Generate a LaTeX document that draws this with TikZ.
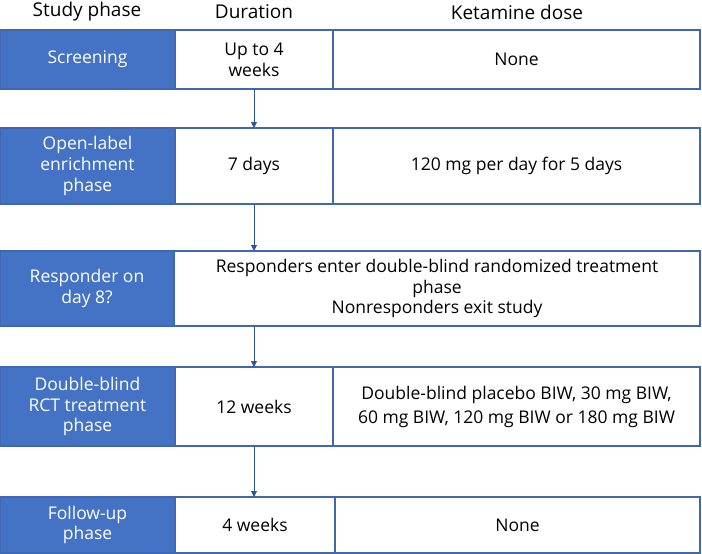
\documentclass[tikz,border=0pt]{standalone}
\usepackage{fontspec}
\setmainfont{Open Sans}
\usetikzlibrary{arrows.meta}
\definecolor{phaseblue}{HTML}{4472C4}
\definecolor{edgeblue}{HTML}{3F68B0}
\definecolor{arrowblue}{HTML}{2F5597}
\tikzset{
  cell/.style={draw=edgeblue, line width=1.2pt, anchor=north west, inner sep=0pt, outer sep=0pt,
    align=center, font=\fontsize{17.5}{20.8}\selectfont},
  phasebox/.style={cell, fill=phaseblue, text=white},
  infobox/.style={cell, fill=white, text=black},
  head/.style={font=\fontsize{19}{22}\selectfont, inner sep=0pt},
  flow/.style={draw=arrowblue, line width=1pt, -{Triangle[length=6pt,width=6pt]}}
}
\begin{document}
\begin{tikzpicture}[x=1pt,y=-1pt]
\useasboundingbox (0,0) rectangle (702,554);
% headers
\node[head] (h1) at (87,12) {Study phase};
\node[head] (h2) at (254,12) {Duration};
\node[head] (h3) at (517,12) {Ketamine dose};
% row 1
\node[phasebox, minimum width=175pt, minimum height=59pt] (p1) at (0,30) {Screening};
\node[infobox, minimum width=158pt, minimum height=59pt] (d1) at (175,30) {Up to 4\\weeks};
\node[infobox, minimum width=367pt, minimum height=59pt] (k1) at (333,30) {None};
% row 2
\node[phasebox, minimum width=175pt, minimum height=76pt] (p2) at (0,128) {Open-label\\enrichment\\phase};
\node[infobox, minimum width=158pt, minimum height=76pt] (d2) at (175,128) {7 days};
\node[infobox, minimum width=367pt, minimum height=76pt] (k2) at (333,128) {120 mg per day for 5 days};
% row 3
\node[phasebox, minimum width=174pt, minimum height=75pt] (p3) at (0,251) {Responder on\\day 8?};
\node[infobox, minimum width=526pt, minimum height=75pt] (r3) at (174,251) {Responders enter double-blind randomized treatment\\phase\\Nonresponders exit study};
% row 4
\node[phasebox, minimum width=175pt, minimum height=79pt] (p4) at (0,367) {Double-blind\\RCT treatment\\phase};
\node[infobox, minimum width=158pt, minimum height=79pt] (d4) at (175,367) {12 weeks};
\node[infobox, minimum width=367pt, minimum height=79pt, font=\fontsize{17.5}{24}\selectfont] (k4) at (333,367) {Double-blind placebo BIW, 30 mg BIW,\\60 mg BIW, 120 mg BIW or 180 mg BIW};
% row 5
\node[phasebox, minimum width=175pt, minimum height=56pt] (p5) at (0,497) {Follow-up\\phase};
\node[infobox, minimum width=160pt, minimum height=56pt] (d5) at (175,497) {4 weeks};
\node[infobox, minimum width=365pt, minimum height=56pt] (k5) at (335,497) {None};
% arrows
\draw[flow] (d1.south) -- (d2.north);
\draw[flow] (d2.south) -- (d2.south |- r3.north);
\draw[flow] (d4.north |- r3.south) -- (d4.north);
\draw[flow] (d4.south) -- (d4.south |- d5.north);
\end{tikzpicture}
\end{document}
